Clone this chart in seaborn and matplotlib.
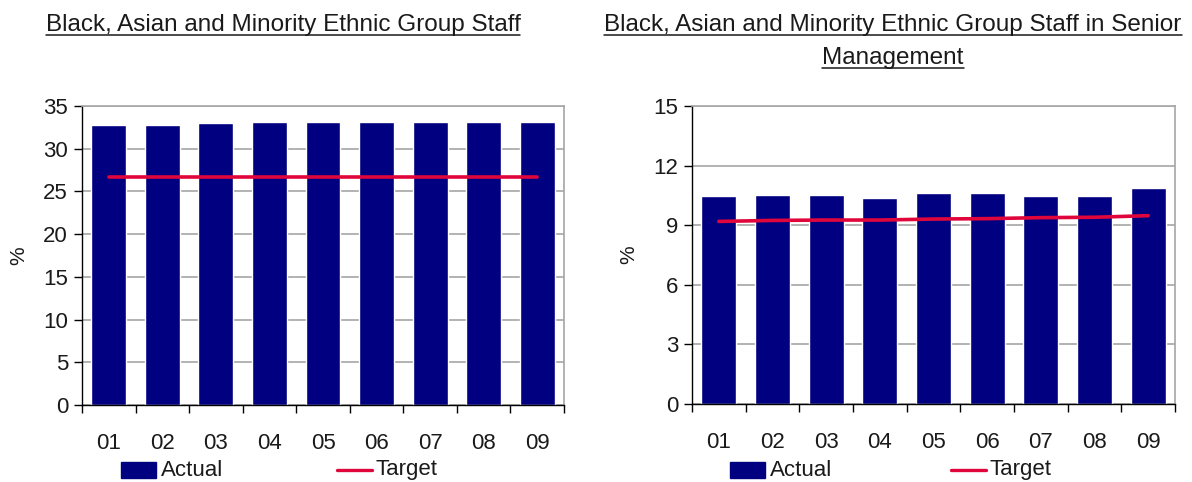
import matplotlib
matplotlib.use("Agg")
import matplotlib.pyplot as plt
from matplotlib.lines import Line2D
from matplotlib.ticker import MultipleLocator, FixedLocator, NullFormatter
import numpy as np
import pandas as pd
import seaborn as sns

# Reporting periods
periods = ["01", "02", "03", "04", "05", "06", "07", "08", "09"]

# All BAME staff (%)
staff_actual = [32.8, 32.8, 33.0, 33.15, 33.15, 33.15, 33.15, 33.15, 33.15]
staff_target = [26.7, 26.7, 26.7, 26.7, 26.7, 26.7, 26.7, 26.7, 26.7]

# BAME staff in senior management (%)
senior_actual = [10.47, 10.52, 10.52, 10.37, 10.62, 10.62, 10.47, 10.47, 10.87]
senior_target = [9.19, 9.24, 9.26, 9.26, 9.31, 9.33, 9.38, 9.40, 9.48]

titles = [
    ["Black, Asian and Minority Ethnic Group Staff"],
    ["Black, Asian and Minority Ethnic Group Staff in Senior", "Management"],
]

sns.set_theme(style="white")
plt.rcParams["font.family"] = ["Liberation Sans Narrow", "Liberation Sans", "DejaVu Sans"]

BAR = "#000080"
LINE = "#E0063C"
GRID = "#A6A6A6"
TEXT = "#1a1a1a"

fig = plt.figure(figsize=(11.92, 4.82), dpi=100)
W, H = 1192, 482


def px_axes(x0, y0, x1, y1):
    return fig.add_axes([x0 / W, 1 - y1 / H, (x1 - x0) / W, (y1 - y0) / H])


panels = [
    dict(box=(82, 106, 564, 405), actual=staff_actual, target=staff_target,
         ymax=35, step=5, title_x=283, legend_x=(121, 337)),
    dict(box=(692, 106, 1175, 404), actual=senior_actual, target=senior_target,
         ymax=15, step=3, title_x=893, legend_x=(730, 951)),
]

title_texts = []
for p, title_lines in zip(panels, titles):
    x0, y0, x1, y1 = p["box"]
    ax = px_axes(x0, y0, x1, y1)
    df = pd.DataFrame({"period": periods, "actual": p["actual"], "target": p["target"]})
    sns.barplot(data=df, x="period", y="actual", color=BAR, width=0.65,
                saturation=1, ax=ax, zorder=2)
    sns.lineplot(x=np.arange(len(periods)), y=df["target"], color=LINE,
                 linewidth=2.6, ax=ax, zorder=3)
    ax.set_xlim(-0.5, len(periods) - 0.5)
    ax.set_ylim(0, p["ymax"])
    ax.yaxis.set_major_locator(MultipleLocator(p["step"]))
    ax.yaxis.grid(True, color=GRID, linewidth=1.2, zorder=0)
    ax.set_axisbelow(True)
    ax.set_xlabel("")
    ax.set_ylabel("%", fontsize=15, color=TEXT)
    ax.yaxis.set_label_coords(-54 / (x1 - x0), 0.5)

    for side in ("top", "right"):
        ax.spines[side].set_color(GRID)
        ax.spines[side].set_linewidth(1.2)
    for side in ("left", "bottom"):
        ax.spines[side].set_color("#000000")
        ax.spines[side].set_linewidth(1.0)

    ax.tick_params(axis="y", which="major", left=True, length=6, width=1,
                   color="black", labelsize=16, labelcolor=TEXT, pad=4)
    ax.tick_params(axis="x", which="major", bottom=False, length=0,
                   labelsize=16, labelcolor=TEXT, pad=20)
    ax.xaxis.set_minor_locator(FixedLocator(np.arange(-0.5, len(periods), 1.0)))
    ax.xaxis.set_minor_formatter(NullFormatter())
    ax.tick_params(axis="x", which="minor", bottom=True, length=6, width=1,
                   color="black")

    # legend entries along the bottom
    lx_patch, lx_line = p["legend_x"]
    y_leg = 1 - 470 / H
    fig.patches.append(plt.Rectangle((lx_patch / W, y_leg - 8 / H), 35 / W, 16 / H,
                                     transform=fig.transFigure, color=BAR))
    fig.text((lx_patch + 40) / W, y_leg, "Actual", fontsize=16, color=TEXT,
             va="center", ha="left")
    fig.lines.append(Line2D([lx_line / W, (lx_line + 35) / W], [y_leg, y_leg],
                            transform=fig.transFigure, color=LINE, linewidth=2.4))
    fig.text((lx_line + 39) / W, y_leg, "Target", fontsize=16, color=TEXT,
             va="center", ha="left")

    # underlined title, one text per line
    for i, line in enumerate(title_lines):
        base = 31 + 33 * i
        t = fig.text(p["title_x"] / W, 1 - base / H, line, fontsize=17.5,
                     color=TEXT, ha="center", va="baseline")
        title_texts.append((t, base))

fig.canvas.draw()
renderer = fig.canvas.get_renderer()
for t, base in title_texts:
    bb = t.get_window_extent(renderer)
    y = 1 - (base + 4) / H
    fig.lines.append(Line2D([bb.x0 / W, bb.x1 / W], [y, y],
                            transform=fig.transFigure, color=TEXT, linewidth=1.1))

fig.savefig("out.png", dpi=100)
